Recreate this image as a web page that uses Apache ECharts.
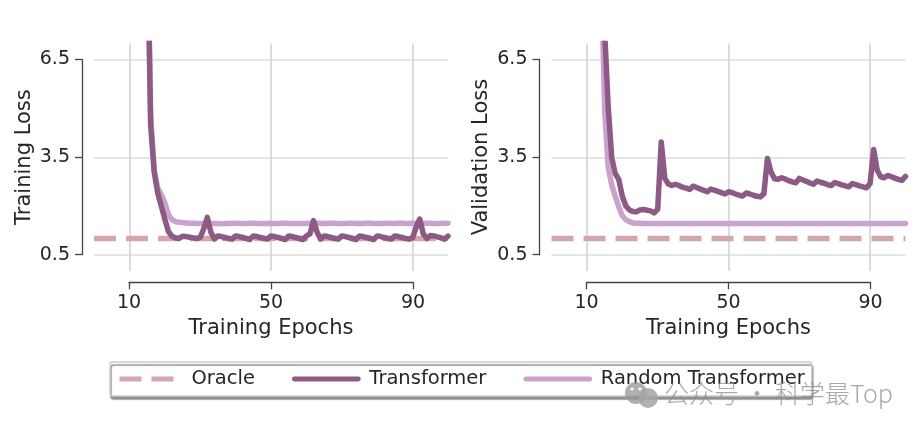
<!DOCTYPE html>
<html>
<head>
<meta charset="utf-8">
<style>
    html, body { margin: 0; padding: 0; background: #fff; }
    #chart { width: 922px; height: 432px; }
</style>
<script src="https://cdn.jsdelivr.net/npm/echarts@6/dist/echarts.min.js"></script>
</head>
<body>
<div id="chart"></div>
<script>
// epochs 14..100, first points run off the top of the plot
const epochs = [14, 15, 16, 17, 18, 19, 20, 21, 22, 23, 24, 25, 26, 27, 28, 29, 30, 31, 32, 33, 34, 35, 36, 37, 38, 39, 40, 41, 42, 43, 44, 45, 46, 47, 48, 49, 50, 51, 52, 53, 54, 55, 56, 57, 58, 59, 60, 61, 62, 63, 64, 65, 66, 67, 68, 69, 70, 71, 72, 73, 74, 75, 76, 77, 78, 79, 80, 81, 82, 83, 84, 85, 86, 87, 88, 89, 90, 91, 92, 93, 94, 95, 96, 97, 98, 99, 100];
const trainTransformer = [16, 11, 4.5, 3.05, 2.4, 2.0, 1.6, 1.22, 1.07, 1.02, 1.0, 1.07, 1.06, 1.04, 1.02, 1.0, 1.03, 1.3, 1.65, 1.2, 0.98, 1.08, 1.06, 1.03, 1.0, 0.98, 1.08, 1.06, 1.03, 1.0, 0.97, 1.08, 1.06, 1.03, 1.0, 0.98, 1.08, 1.06, 1.03, 1.0, 0.97, 1.08, 1.06, 1.03, 1.0, 0.97, 1.08, 1.14, 1.55, 1.2, 0.98, 1.08, 1.06, 1.03, 1.0, 0.98, 1.08, 1.06, 1.03, 1.0, 0.97, 1.08, 1.06, 1.03, 1.0, 0.97, 1.08, 1.06, 1.03, 1.0, 0.98, 1.08, 1.06, 1.03, 1.0, 0.98, 1.02, 1.35, 1.6, 1.15, 1.0, 1.09, 1.08, 1.05, 1.02, 0.98, 1.07];
const trainRandom = [16, 11, 4.8, 3.1, 2.55, 2.35, 2.1, 1.75, 1.58, 1.52, 1.5, 1.49, 1.48, 1.47, 1.47, 1.46, 1.46, 1.45, 1.45, 1.46, 1.46, 1.46, 1.45, 1.46, 1.46, 1.47, 1.47, 1.46, 1.46, 1.46, 1.47, 1.47, 1.46, 1.46, 1.46, 1.46, 1.47, 1.46, 1.46, 1.47, 1.47, 1.46, 1.46, 1.46, 1.46, 1.46, 1.46, 1.47, 1.47, 1.47, 1.47, 1.46, 1.46, 1.47, 1.47, 1.46, 1.46, 1.46, 1.47, 1.47, 1.46, 1.46, 1.46, 1.47, 1.47, 1.46, 1.46, 1.46, 1.47, 1.47, 1.46, 1.46, 1.47, 1.47, 1.46, 1.46, 1.47, 1.47, 1.47, 1.46, 1.47, 1.47, 1.46, 1.46, 1.46, 1.47, 1.47];
const valTransformer = [14, 7.4, 5.1, 3.5, 3.0, 2.82, 2.3, 2.0, 1.88, 1.83, 1.82, 1.88, 1.89, 1.87, 1.85, 1.79, 1.9, 3.97, 2.85, 2.68, 2.63, 2.67, 2.63, 2.58, 2.55, 2.51, 2.61, 2.57, 2.52, 2.48, 2.44, 2.52, 2.49, 2.45, 2.41, 2.37, 2.44, 2.41, 2.37, 2.33, 2.31, 2.4, 2.37, 2.33, 2.3, 2.28, 2.38, 3.46, 3.05, 2.84, 2.82, 2.87, 2.83, 2.78, 2.74, 2.71, 2.85, 2.8, 2.76, 2.71, 2.67, 2.77, 2.73, 2.7, 2.66, 2.63, 2.72, 2.69, 2.65, 2.62, 2.59, 2.69, 2.66, 2.62, 2.59, 2.56, 2.69, 3.74, 3.1, 2.9, 2.87, 2.94, 2.9, 2.86, 2.82, 2.79, 2.91];
const valRandom = [9.5, 5, 3.2, 2.65, 2.3, 1.97, 1.7, 1.58, 1.52, 1.48, 1.47, 1.47, 1.46, 1.46, 1.46, 1.46, 1.46, 1.46, 1.46, 1.46, 1.46, 1.46, 1.46, 1.46, 1.46, 1.46, 1.46, 1.46, 1.46, 1.46, 1.46, 1.46, 1.46, 1.46, 1.46, 1.46, 1.46, 1.46, 1.46, 1.46, 1.46, 1.46, 1.46, 1.46, 1.46, 1.46, 1.46, 1.46, 1.46, 1.46, 1.46, 1.46, 1.46, 1.46, 1.46, 1.46, 1.46, 1.46, 1.46, 1.46, 1.46, 1.46, 1.46, 1.46, 1.46, 1.46, 1.46, 1.46, 1.46, 1.46, 1.46, 1.46, 1.46, 1.46, 1.46, 1.46, 1.46, 1.46, 1.46, 1.46, 1.46, 1.46, 1.46, 1.46, 1.46, 1.46, 1.46];
const oracleEpochs = [0, 100];
const oracleLoss = [1, 1];
const xTicks = [10, 50, 90];
const yTicks = [0.5, 3.5, 6.5];

const FONT = "DejaVu Sans";
const TEXT = "#262626";
const DARK = "#8c5a85";
const LIGHT = "#c9a3cd";
const ORACLE = "#d4a7ad";

const zip = (xs, ys) => xs.map((x, i) => [x, ys[i]]);

function dataAxes(left, width, index) {
    return {
        grid: { left: left, top: 43.5, width: width, height: 227.5 },
        x: {
            gridIndex: index, type: "value", min: 0, max: 100,
            axisLine: { show: false },
            axisLabel: { show: false },
            axisTick: { show: false, customValues: xTicks },
            splitLine: { show: true, lineStyle: { color: "#d0d0d0", width: 1.5 } },
        },
        y: {
            gridIndex: index, type: "value", min: 0, max: 7,
            axisLine: { show: false },
            axisLabel: { show: false },
            axisTick: { show: false, customValues: yTicks },
            splitLine: { show: true, lineStyle: { color: "#dddddd", width: 1.5 } },
        },
    };
}

// trimmed spines sit in their own grid, pushed out with offset
function spineAxes(left, yName, index) {
    const line = { show: true, lineStyle: { color: "#444", width: 1.3 } };
    const tick = (vals) => ({ show: true, length: 7, customValues: vals, lineStyle: { color: "#444", width: 1.3 } });
    const label = (vals, margin, extra) => Object.assign({ customValues: vals, color: TEXT, fontFamily: FONT, fontSize: 19, margin: margin }, extra || {});
    return {
        grid: { left: left, top: 59.5, width: 284, height: 195.2 },
        x: {
            gridIndex: index, type: "value", min: 10, max: 90, position: "bottom", offset: 27.6,
            axisLine: line, axisTick: tick(xTicks), axisLabel: label(xTicks, 11),
            splitLine: { show: false },
            name: "Training Epochs", nameLocation: "middle", nameGap: 36,
            nameTextStyle: { color: TEXT, fontFamily: FONT, fontSize: 21 },
        },
        y: {
            gridIndex: index, type: "value", min: 0.5, max: 6.5, position: "left", offset: 47,
            axisLine: line, axisTick: tick(yTicks), axisLabel: label(yTicks, 12, { padding: [8, 0, 0, 0] }),
            splitLine: { show: false },
            name: yName, nameLocation: "middle", nameGap: 47,
            nameTextStyle: { color: TEXT, fontFamily: FONT, fontSize: 21 },
        },
    };
}

const leftData = dataAxes(94, 354, 0);
const rightData = dataAxes(551.5, 354, 1);
const leftSpine = spineAxes(129, "Training Loss", 2);
const rightSpine = spineAxes(586.5, "Validation Loss", 3);

function lineSeries(name, panel, xs, ys, color, width, extra) {
    return {
        name: name, type: "line", xAxisIndex: panel, yAxisIndex: panel,
        data: zip(xs, ys), showSymbol: false, symbol: "none", silent: true, animation: false,
        itemStyle: { color: color },
        lineStyle: Object.assign({ color: color, width: width, cap: "round", join: "round" }, extra || {}),
    };
}

const oracleDash = { type: [22, 10], cap: "butt" };

const option = {
    animation: false,
    backgroundColor: "#fff",
    textStyle: { fontFamily: FONT },
    grid: [leftData.grid, rightData.grid, leftSpine.grid, rightSpine.grid],
    xAxis: [leftData.x, rightData.x, leftSpine.x, rightSpine.x],
    yAxis: [leftData.y, rightData.y, leftSpine.y, rightSpine.y],
    series: [
        lineSeries("Oracle", 0, oracleEpochs, oracleLoss, ORACLE, 5.5, oracleDash),
        lineSeries("Random Transformer", 0, epochs, trainRandom, LIGHT, 5.5),
        lineSeries("Transformer", 0, epochs, trainTransformer, DARK, 5.5),
        lineSeries("Oracle", 1, oracleEpochs, oracleLoss, ORACLE, 5.5, oracleDash),
        lineSeries("Random Transformer", 1, epochs, valRandom, LIGHT, 5.5),
        lineSeries("Transformer", 1, epochs, valTransformer, DARK, 5.5),
    ],
    legend: {
        left: 110, top: 362,
        data: [
            { name: "Oracle", lineStyle: { width: 5, type: [22, 10], cap: "butt", color: ORACLE }, textStyle: { padding: [0, 0, 0, 3] } },
            { name: "Transformer", lineStyle: { width: 4.8, type: "solid", cap: "round", color: DARK }, textStyle: { padding: [0, 0, 0, 6] } },
            { name: "Random Transformer", lineStyle: { width: 4.8, type: "solid", cap: "round", color: LIGHT }, textStyle: { padding: [0, 0, 0, 6] } },
        ],
        selectedMode: false,
        padding: [7, 7, 7, 7],
        itemWidth: 64, itemHeight: 14, itemGap: 37,
        itemStyle: { opacity: 0 },
        textStyle: { color: TEXT, fontFamily: FONT, fontSize: 19.5 },
        backgroundColor: "#fff",
        borderColor: "#cccccc", borderWidth: 1.5, borderRadius: 3,
        shadowColor: "#8f8f8f", shadowBlur: 1, shadowOffsetX: 1, shadowOffsetY: 3,
    },
    // wechat watermark stamped over the picture
    graphic: [
        { type: "circle", shape: { cx: 636, cy: 393, r: 11 }, style: { fill: "rgba(150,150,150,0.75)" }, z: 100 },
        { type: "circle", shape: { cx: 648, cy: 398, r: 10 }, style: { fill: "rgba(165,165,165,0.85)" }, z: 100 },
        { type: "circle", shape: { cx: 632, cy: 389, r: 1.6 }, style: { fill: "#fff" }, z: 101 },
        { type: "circle", shape: { cx: 640, cy: 389, r: 1.6 }, style: { fill: "#fff" }, z: 101 },
        { type: "text", left: 664, top: 381, z: 100,
          style: { text: "公众号 · 科学最Top", fill: "rgba(140,140,140,0.75)", font: "300 25px 'Noto Sans CJK SC'" } },
    ],
};

const chart = echarts.init(document.getElementById("chart"));
chart.setOption(option);
</script>
</body>
</html>
